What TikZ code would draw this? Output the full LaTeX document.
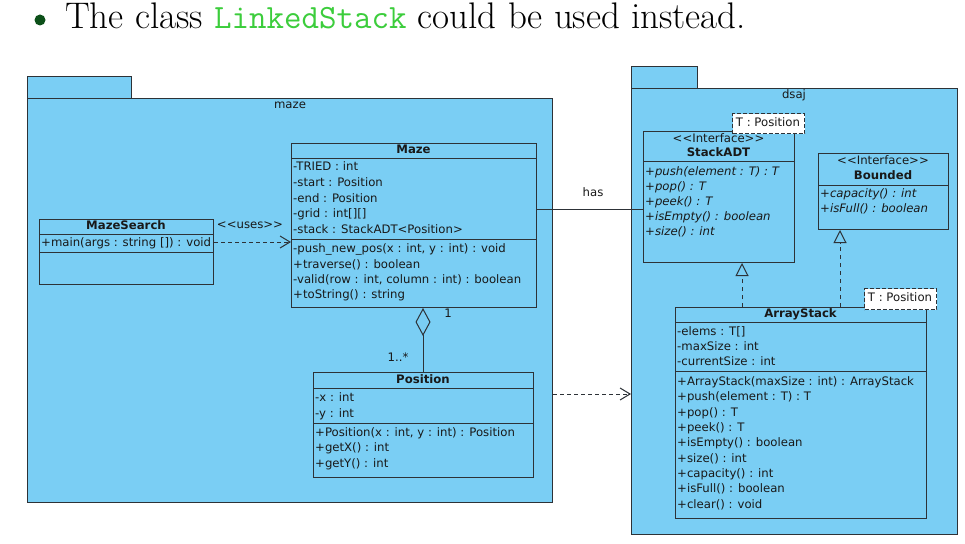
\documentclass[tikz,border=0pt]{standalone}
\usepackage{fontspec}
\newfontfamily\umlfont{DejaVu Sans}
\usetikzlibrary{arrows.meta}
\definecolor{pkgblue}{RGB}{122,206,244}
\definecolor{linegray}{RGB}{45,50,55}
\definecolor{textdark}{RGB}{25,25,25}
\definecolor{ttgreen}{RGB}{60,205,60}
\definecolor{bulletgreen}{RGB}{12,80,25}
\begin{document}
\begin{tikzpicture}[x=1pt,y=-1pt,
  box/.style={draw=linegray, fill=pkgblue, line width=1pt, inner sep=0pt, anchor=north west},
  txt/.style={font=\umlfont\fontsize{11.7}{13}\selectfont, text=textdark, inner sep=0pt, anchor=west, text height=8.5pt, text depth=2.3pt},
  itxt/.style={txt, font=\umlfont\itshape\fontsize{11.7}{13}\selectfont},
  ttl/.style={txt, font=\umlfont\bfseries\fontsize{11.7}{13}\selectfont, anchor=center},
  ctxt/.style={txt, anchor=center},
  sep/.style={draw=linegray, line width=1pt},
  tparam/.style={draw=linegray, dash pattern=on 4pt off 2pt, line width=1.2pt, fill=white, inner sep=0pt, anchor=north west},
  dep/.style={draw=linegray, line width=1pt, dash pattern=on 4pt off 3pt, -{Straight Barb[length=10pt,width=12pt]}},
  real/.style={draw=linegray, line width=1pt, dash pattern=on 4pt off 4pt, -{Triangle[open,length=13pt,width=13pt]}}
]
\useasboundingbox (0,0) rectangle (965,543);
\fill[white] (0,0) rectangle (965,543);

% header
\node[circle, fill=bulletgreen, minimum size=11pt, inner sep=0pt] (bul) at (40,20) {};
\node[anchor=base west, inner sep=0pt, font=\fontsize{37}{40}\selectfont] (hdr) at (65,29)
  {The class {\ttfamily\fontsize{34}{38}\selectfont\color{ttgreen}LinkedStack} could be used instead.};

% packages
\node[box, minimum width=104pt, minimum height=22pt] (mazetab) at (27,76) {};
\node[box, minimum width=525pt, minimum height=404pt] (mazepkg) at (27,98) {};
\node[ctxt] (mazelbl) at (290,105) {maze};

\node[box, minimum width=66pt, minimum height=22pt] (dsajtab) at (631,66) {};
\node[box, minimum width=326pt, minimum height=446pt] (dsajpkg) at (631,88) {};
\node[ctxt] (dsajlbl) at (794,95) {dsaj};

% MazeSearch
\node[box, minimum width=174pt, minimum height=65pt] (ms) at (39,219) {};
\node[ttl] (mst) at (126,226) {MazeSearch};
\draw[sep] (ms.west |- 0,234) -- (ms.east |- 0,234);
\node[txt] (msm) at (41,243) {+main(args : string []) : void};
\draw[sep] (ms.west |- 0,252) -- (ms.east |- 0,252);

% Maze
\node[box, minimum width=245pt, minimum height=164pt] (maze) at (291,143) {};
\node[ttl] (mazet) at (413.5,150) {Maze};
\draw[sep] (maze.west |- 0,158) -- (maze.east |- 0,158);
\node[txt] (ma1) at (293,167) {-TRIED : int};
\node[txt] (ma2) at (293,183) {-start : Position};
\node[txt] (ma3) at (293,199) {-end : Position};
\node[txt] (ma4) at (293,214) {-grid : int[][]};
\node[txt] (ma5) at (293,230) {-stack : StackADT<Position>};
\draw[sep] (maze.west |- 0,239) -- (maze.east |- 0,239);
\node[txt] (mm1) at (293,249) {-push\_new\_pos(x : int, y : int) : void};
\node[txt] (mm2) at (293,265) {+traverse() : boolean};
\node[txt] (mm3) at (293,280) {-valid(row : int, column : int) : boolean};
\node[txt] (mm4) at (293,295) {+toString() : string};

% Position
\node[box, minimum width=220pt, minimum height=105pt] (pos) at (313,372) {};
\node[ttl] (post) at (423,380) {Position};
\draw[sep] (pos.west |- 0,388) -- (pos.east |- 0,388);
\node[txt] (pa1) at (315,398) {-x : int};
\node[txt] (pa2) at (315,414) {-y : int};
\draw[sep] (pos.west |- 0,423) -- (pos.east |- 0,423);
\node[txt] (pm1) at (315,433) {+Position(x : int, y : int) : Position};
\node[txt] (pm2) at (315,448) {+getX() : int};
\node[txt] (pm3) at (315,464) {+getY() : int};

% StackADT
\node[box, minimum width=151pt, minimum height=131pt] (sadt) at (643,131) {};
\node[ctxt] (sadts) at (718.5,139) {<<Interface>>};
\node[ttl] (sadtt) at (718.5,153) {StackADT};
\draw[sep] (sadt.west |- 0,161) -- (sadt.east |- 0,161);
\node[itxt] (s1) at (645,172) {+push(element : T) : T};
\node[itxt] (s2) at (645,187) {+pop() : T};
\node[itxt] (s3) at (645,202) {+peek() : T};
\node[itxt] (s4) at (645,217) {+isEmpty() : boolean};
\node[itxt] (s5) at (645,232) {+size() : int};
\node[tparam, minimum width=72pt, minimum height=20pt] (tp1) at (732,113) {};
\node[ctxt] (tp1t) at (768,123) {T : Position};

% Bounded
\node[box, minimum width=130pt, minimum height=76pt] (bnd) at (818,153) {};
\node[ctxt] (bnds) at (883,161) {<<Interface>>};
\node[ttl] (bndt) at (883,176) {Bounded};
\draw[sep] (bnd.west |- 0,185) -- (bnd.east |- 0,185);
\node[itxt] (b1) at (820,194) {+capacity() : int};
\node[itxt] (b2) at (820,209) {+isFull() : boolean};

% ArrayStack
\node[box, minimum width=251pt, minimum height=211pt] (as) at (675,307) {};
\node[ttl] (ast) at (800.5,314) {ArrayStack};
\draw[sep] (as.west |- 0,322) -- (as.east |- 0,322);
\node[txt] (aa1) at (677,332) {-elems : T[]};
\node[txt] (aa2) at (677,347) {-maxSize : int};
\node[txt] (aa3) at (677,362) {-currentSize : int};
\draw[sep] (as.west |- 0,371) -- (as.east |- 0,371);
\node[txt] (am1) at (677,382) {+ArrayStack(maxSize : int) : ArrayStack};
\node[txt] (am2) at (677,397) {+push(element : T) : T};
\node[txt] (am3) at (677,413) {+pop() : T};
\node[txt] (am4) at (677,428) {+peek() : T};
\node[txt] (am5) at (677,443) {+isEmpty() : boolean};
\node[txt] (am6) at (677,459) {+size() : int};
\node[txt] (am7) at (677,474) {+capacity() : int};
\node[txt] (am8) at (677,489) {+isFull() : boolean};
\node[txt] (am9) at (677,505) {+clear() : void};
\node[tparam, minimum width=72pt, minimum height=21pt] (tp2) at (864,288) {};
\node[ctxt] (tp2t) at (900,298.5) {T : Position};

% connectors
\draw[dep] (ms.east |- 0,242) -- (maze.west |- 0,242);
\node[ctxt] (uses) at (250,225) {<<uses>>};

\draw[draw=linegray, line width=1pt] (maze.east |- 0,209) -- (sadt.west |- 0,209);
\node[ctxt] (has) at (593,193) {has};

\draw[draw=linegray, line width=1pt, -{Diamond[open,length=28pt,width=15pt]}] (pos.north -| 423,0) -- (maze.south -| 423,0);
\node[ctxt] (m1) at (448,314) {1};
\node[ctxt] (m2) at (398,358) {1..*};

\draw[real] (as.north -| 742,0) -- (sadt.south -| 742,0);
\draw[real] (as.north -| 840,0) -- (bnd.south -| 840,0);

\draw[dep] (mazepkg.east |- 0,394) -- (dsajpkg.west |- 0,394);
\end{tikzpicture}
\end{document}
